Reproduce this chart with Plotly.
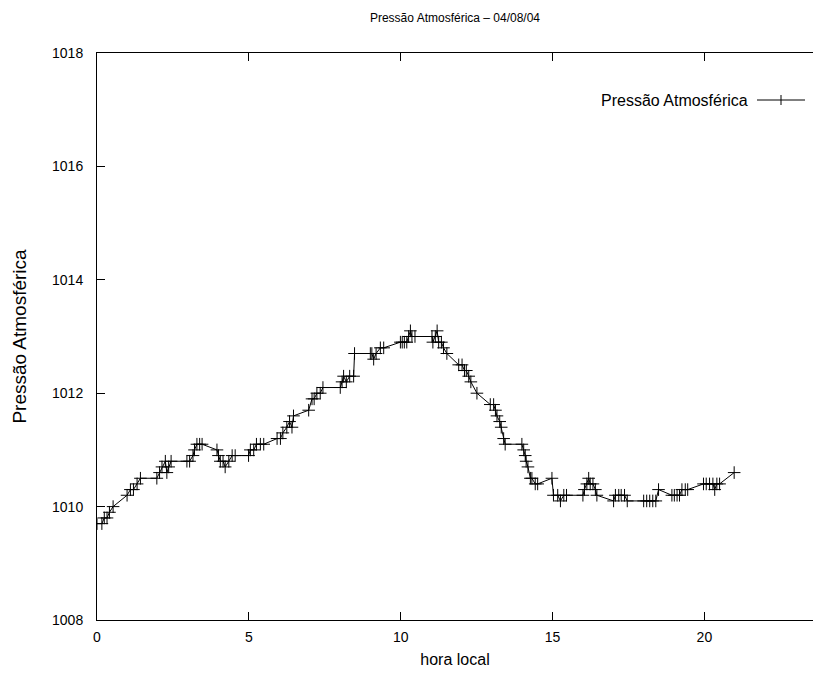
import plotly.graph_objects as go

hours = [0.00, 0.16, 0.24, 0.33, 0.41, 0.53, 0.99, 1.10, 1.20, 1.32, 1.43, 1.97, 2.06, 2.14, 2.25, 2.30,
         2.36, 2.44, 2.96, 3.05, 3.16, 3.21, 3.29, 3.38, 3.46, 3.95, 4.00, 4.06, 4.15, 4.22, 4.34, 4.45,
         4.55, 4.99, 5.05, 5.16, 5.25, 5.38, 5.49, 5.93, 6.04, 6.12, 6.25, 6.34, 6.42, 6.47, 6.97, 7.08,
         7.15, 7.24, 7.35, 7.44, 8.01, 8.07, 8.12, 8.21, 8.32, 8.45, 8.48, 9.00, 9.05, 9.11, 9.19, 9.33,
         9.44, 9.99, 10.05, 10.12, 10.20, 10.26, 10.32, 10.37, 10.47, 11.03, 11.06, 11.14, 11.20, 11.25,
         11.34, 11.41, 11.52, 11.91, 12.02, 12.10, 12.16, 12.24, 12.31, 12.51, 12.95, 13.06, 13.12, 13.17,
         13.26, 13.31, 13.39, 13.44, 13.99, 14.05, 14.10, 14.13, 14.19, 14.27, 14.32, 14.43, 14.51, 14.98,
         15.03, 15.17, 15.26, 15.37, 15.46, 16.00, 16.05, 16.13, 16.19, 16.24, 16.33, 16.41, 16.46, 17.01,
         17.07, 17.18, 17.26, 17.37, 17.46, 18.00, 18.10, 18.20, 18.30, 18.40, 18.49, 18.93, 19.01, 19.10,
         19.18, 19.26, 19.37, 19.45, 19.97, 20.06, 20.17, 20.28, 20.34, 20.41, 20.50, 20.98]

pressure = [1009.7, 1009.7, 1009.8, 1009.8, 1009.9, 1010.0, 1010.2, 1010.3, 1010.3, 1010.4, 1010.5, 1010.5,
            1010.6, 1010.7, 1010.8, 1010.6, 1010.7, 1010.8, 1010.8, 1010.8, 1010.9, 1011.0, 1011.1, 1011.1,
            1011.1, 1011.0, 1010.9, 1010.8, 1010.8, 1010.7, 1010.8, 1010.9, 1010.9, 1010.9, 1011.0, 1011.0,
            1011.1, 1011.1, 1011.1, 1011.2, 1011.2, 1011.3, 1011.4, 1011.5, 1011.4, 1011.6, 1011.7, 1011.9,
            1011.9, 1012.0, 1012.0, 1012.1, 1012.1, 1012.2, 1012.3, 1012.2, 1012.3, 1012.3, 1012.7, 1012.7,
            1012.7, 1012.6, 1012.7, 1012.8, 1012.8, 1012.9, 1012.9, 1012.9, 1012.9, 1013.0, 1013.1, 1013.0,
            1013.0, 1013.0, 1012.9, 1013.0, 1013.1, 1012.9, 1012.9, 1012.8, 1012.7, 1012.5, 1012.5, 1012.4,
            1012.4, 1012.3, 1012.2, 1012.0, 1011.8, 1011.8, 1011.7, 1011.6, 1011.5, 1011.4, 1011.2, 1011.1,
            1011.1, 1011.0, 1010.9, 1010.8, 1010.7, 1010.5, 1010.5, 1010.4, 1010.4, 1010.5, 1010.2, 1010.2,
            1010.1, 1010.2, 1010.2, 1010.2, 1010.3, 1010.4, 1010.5, 1010.4, 1010.4, 1010.3, 1010.2, 1010.1,
            1010.2, 1010.2, 1010.2, 1010.2, 1010.1, 1010.1, 1010.1, 1010.1, 1010.1, 1010.1, 1010.3, 1010.2,
            1010.2, 1010.2, 1010.2, 1010.3, 1010.3, 1010.3, 1010.4, 1010.4, 1010.4, 1010.4, 1010.3, 1010.4,
            1010.4, 1010.6]

x_ticks = [0, 5, 10, 15, 20]
y_ticks = [1008, 1010, 1012, 1014, 1016, 1018]

series_name = "Pressão Atmosférica"
title_text = "Pressão Atmosférica – 04/08/04"

FONT = "Liberation Sans, Arial, sans-serif"

fig = go.Figure()
fig.add_trace(go.Scatter(
    x=hours, y=pressure, mode="lines+markers", name=series_name,
    line=dict(color="black", width=1),
    marker=dict(symbol="cross-thin-open", size=9, line=dict(color="black", width=1)),
    showlegend=False,
))

W, H = 813, 679
L, R, T, B = 97, 0, 53, 59

fig.update_layout(
    width=W, height=H,
    margin=dict(l=L, r=R, t=T, b=B),
    paper_bgcolor="white", plot_bgcolor="white",
    font=dict(family=FONT, size=14, color="black"),
    title=dict(text=title_text, x=0.5, xref="paper", xanchor="center",
               y=1 - 18 / H, yref="container", yanchor="middle",
               font=dict(family=FONT, size=12, color="black")),
    xaxis=dict(range=[0, (W - L - R) / 30.37], tickvals=x_ticks, ticks="inside", ticklen=8,
               tickcolor="black", showline=True, linecolor="black", linewidth=1, mirror="ticks",
               showgrid=False, zeroline=False, ticklabelstandoff=4,
               title=dict(text="hora local", standoff=10, font=dict(family=FONT, size=16)),
               tickfont=dict(size=14)),
    yaxis=dict(range=[1008, 1018], tickvals=y_ticks, ticks="inside", ticklen=8,
               tickcolor="black", showline=True, linecolor="black", linewidth=1,
               showgrid=False, zeroline=False, ticklabelstandoff=10,
               title=dict(text=series_name, standoff=20, font=dict(family=FONT, size=19)),
               tickfont=dict(size=14)),
)

# manual gnuplot-style key: text then sample
def px_x(p):
    return (p - L) / (W - L - R)

def px_y(p):
    return (H - B - p) / (H - T - B)

ky = 100
fig.add_annotation(text=series_name, xref="paper", yref="paper", x=px_x(750), y=px_y(ky),
                   xanchor="right", yanchor="middle", showarrow=False,
                   font=dict(family=FONT, size=16, color="black"))
fig.add_shape(type="line", xref="paper", yref="paper", x0=px_x(757), x1=px_x(805),
              y0=px_y(ky), y1=px_y(ky), line=dict(color="black", width=1))
fig.add_shape(type="line", xref="paper", yref="paper", x0=px_x(781), x1=px_x(781),
              y0=px_y(ky - 5), y1=px_y(ky + 5), line=dict(color="black", width=1))

fig.write_html("out.html")
